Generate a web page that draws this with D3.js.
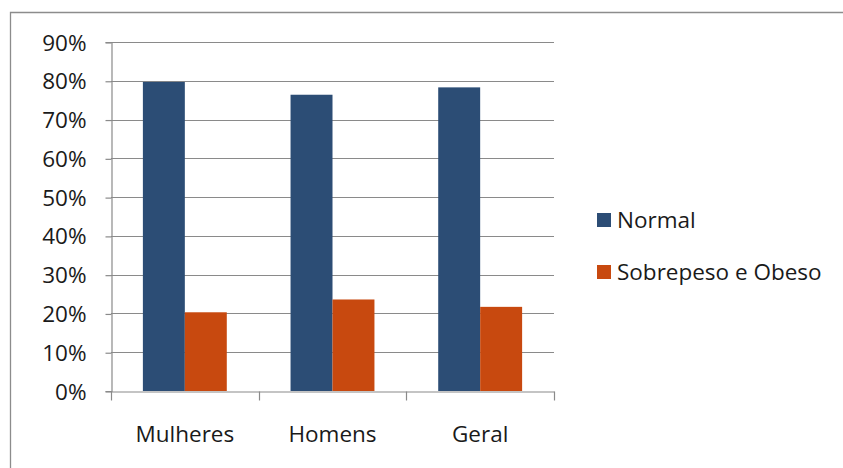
<!DOCTYPE html>
<html>
<head>
<meta charset="utf-8">
<script src="https://cdn.jsdelivr.net/npm/d3@7"></script>
<style>
  html, body { margin: 0; padding: 0; background: #fff; }
  svg { display: block; }
  text { font-family: "Open Sans", sans-serif; fill: #1a1a1a; }
</style>
</head>
<body>
<svg id="chart" width="843" height="468"></svg>
<script>
// Body-weight classification by group (share of people)
const categories = ["Mulheres", "Homens", "Geral"];
const seriesNames = ["Normal", "Sobrepeso e Obeso"];
const normalValues = [0.797, 0.764, 0.783];
const overweightValues = [0.203, 0.236, 0.217];
const yTicks = [0, 0.1, 0.2, 0.3, 0.4, 0.5, 0.6, 0.7, 0.8, 0.9];
const colors = ["#2C4D75", "#C8490F"];

const series = [normalValues, overweightValues];

const svg = d3.select("#chart");
const W = 843, H = 468;
const plot = { left: 111, right: 554, top: 42, bottom: 391 };
const gridColor = "#8A8A8A";
const fontSize = 22.5;

// outer chart frame (runs off the right and bottom edges)
svg.append("path")
  .attr("d", `M10.5,${H + 2}V12.5H${W + 2}`)
  .attr("fill", "none")
  .attr("stroke", "#8C8C8C")
  .attr("stroke-width", 1.3);

const x = d3.scaleBand().domain(categories).range([plot.left, plot.right]).paddingInner(0).paddingOuter(0);
const x1 = d3.scaleBand().domain(seriesNames).range([0, x.bandwidth()]).paddingInner(0).paddingOuter(0.76);
const y = d3.scaleLinear().domain([0, 0.9]).range([plot.bottom, plot.top]);

// horizontal gridlines
svg.append("g").selectAll("line").data(yTicks.filter(d => d > 0)).join("line")
  .attr("x1", plot.left).attr("x2", plot.right)
  .attr("y1", d => Math.round(y(d)) + 0.5).attr("y2", d => Math.round(y(d)) + 0.5)
  .attr("stroke", gridColor).attr("stroke-width", 1.2);

// y axis
const yAxis = d3.axisLeft(y).tickValues(yTicks).tickFormat(d3.format(".0%")).tickSize(6).tickPadding(19);
const gy = svg.append("g").attr("transform", `translate(${plot.left + 0.5},0)`).call(yAxis);
gy.select(".domain").attr("stroke", gridColor).attr("stroke-width", 1.2);
gy.selectAll(".tick line").attr("stroke", gridColor).attr("stroke-width", 1.2)
  .attr("transform", "translate(0,0.5)");
gy.selectAll(".tick text").attr("font-size", fontSize).attr("font-family", "'Open Sans', sans-serif")
  .attr("fill", "#1a1a1a").attr("dy", "0.36em");

// bars
const groups = svg.append("g").selectAll("g").data(categories).join("g")
  .attr("transform", d => `translate(${x(d)},0)`);
groups.selectAll("rect").data((c, i) => seriesNames.map((s, j) => ({ s, v: series[j][i], j })))
  .join("rect")
  .attr("x", d => x1(d.s))
  .attr("width", x1.bandwidth())
  .attr("y", d => y(d.v))
  .attr("height", d => y(0) - y(d.v))
  .attr("fill", d => colors[d.j]);

// x axis baseline with category separators
const xAxis = d3.axisBottom(x).tickSize(0).tickPadding(34.5);
const gx = svg.append("g").attr("transform", `translate(0,${plot.bottom + 0.5})`).call(xAxis);
gx.select(".domain").attr("stroke", gridColor).attr("stroke-width", 1.2);
gx.selectAll(".tick text").attr("font-size", fontSize).attr("font-family", "'Open Sans', sans-serif")
  .attr("fill", "#1a1a1a");
const bounds = [plot.left].concat(categories.map(c => x(c) + x.bandwidth()));
gx.append("g").selectAll("line").data(bounds).join("line")
  .attr("x1", d => Math.round(d) + 0.5).attr("x2", d => Math.round(d) + 0.5)
  .attr("y1", 0).attr("y2", 9)
  .attr("stroke", gridColor).attr("stroke-width", 1.2);

// legend
const legend = svg.append("g").attr("transform", "translate(597,213)");
const li = legend.selectAll("g").data(seriesNames).join("g")
  .attr("transform", (d, i) => `translate(0,${i * 52})`);
li.append("rect").attr("width", 14).attr("height", 14).attr("fill", (d, i) => colors[i]);
li.append("text").attr("x", 20).attr("y", 14.5).attr("font-size", fontSize).text(d => d);
</script>
</body>
</html>
